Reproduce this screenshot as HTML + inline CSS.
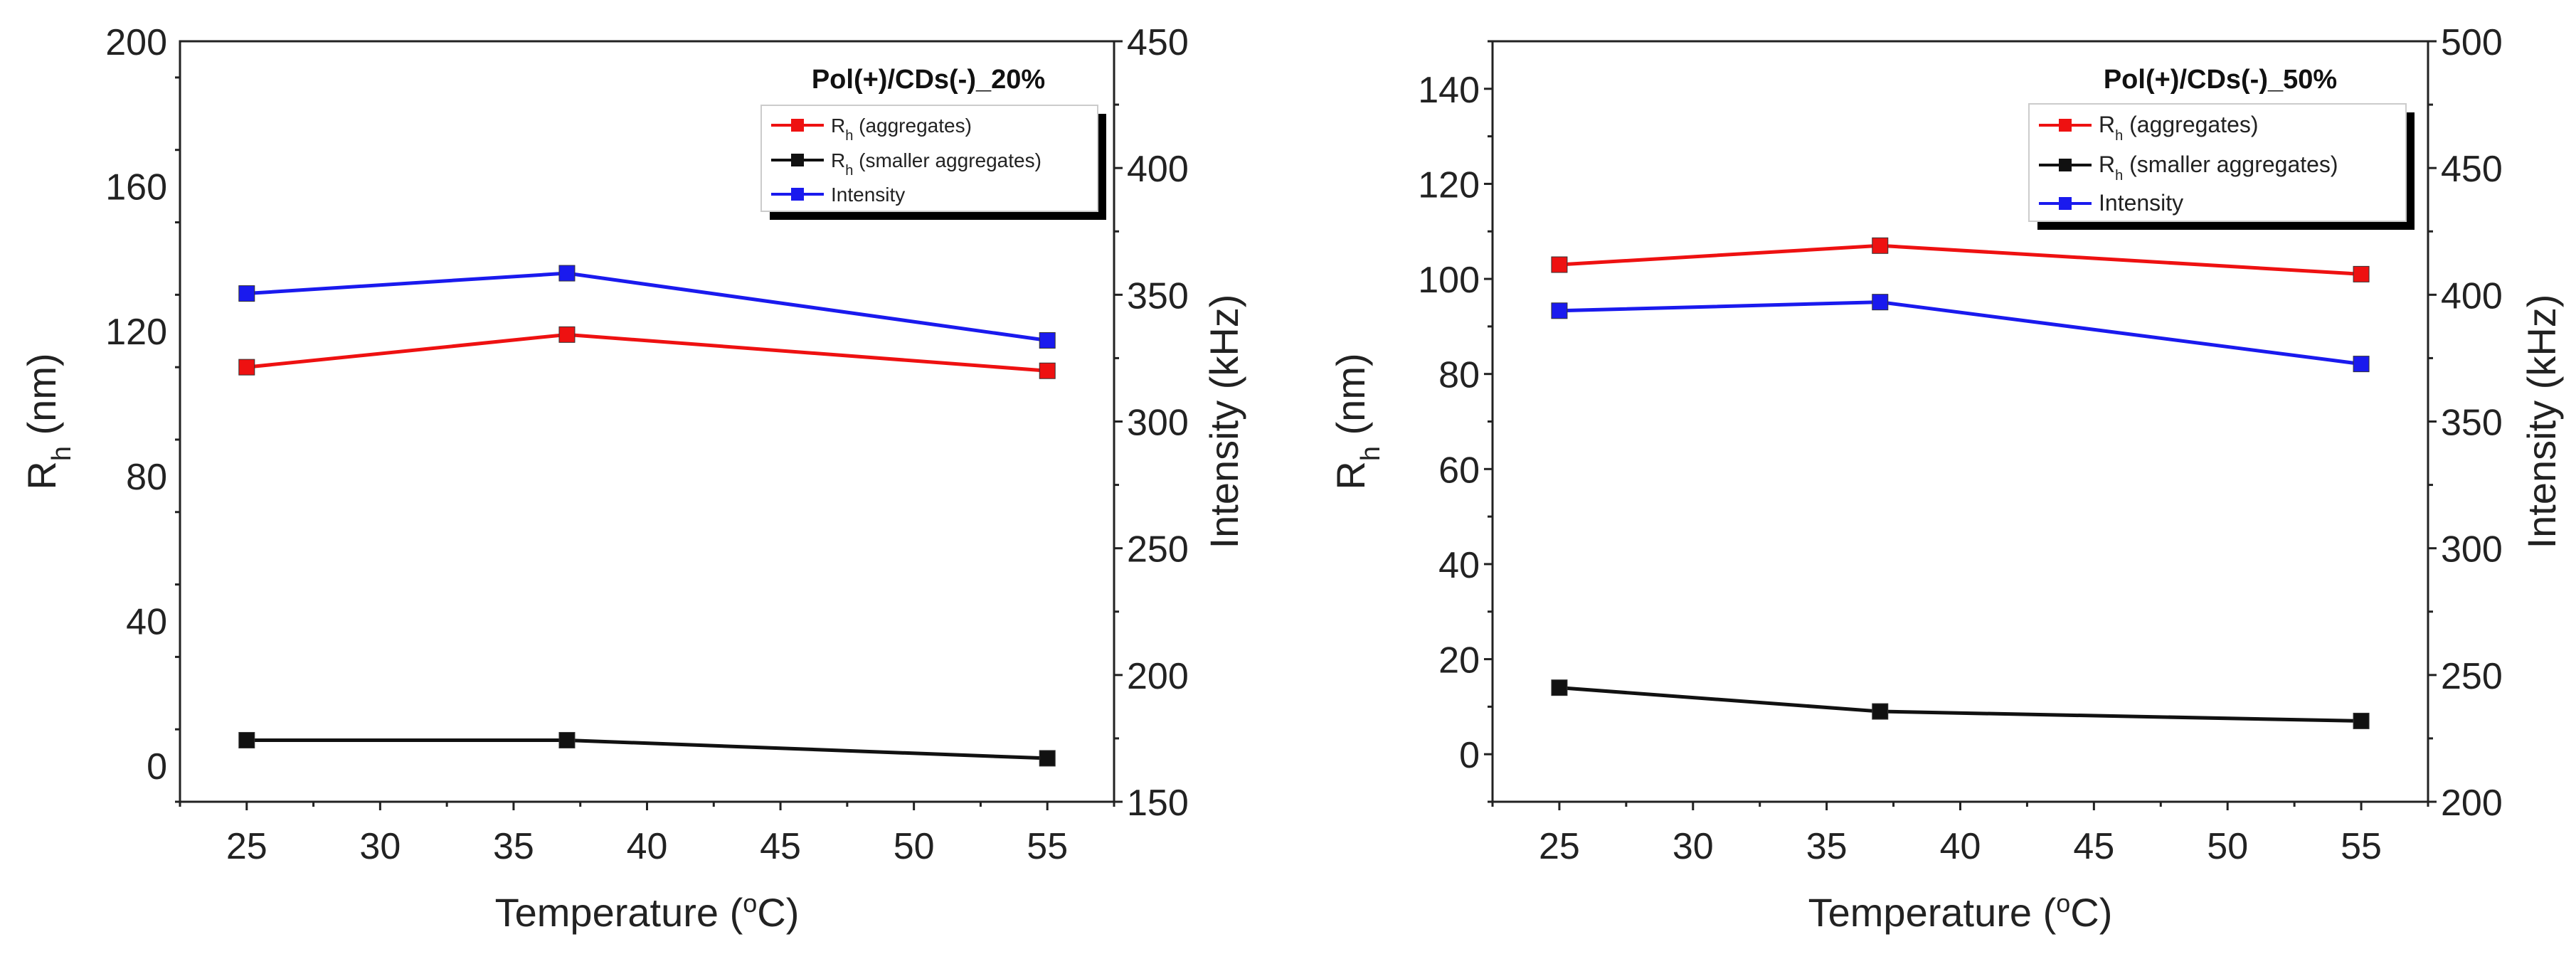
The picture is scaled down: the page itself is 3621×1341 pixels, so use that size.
<!DOCTYPE html>
<html><head><meta charset="utf-8">
<style>
html,body{margin:0;padding:0;background:#fff;}
svg{display:block;font-family:"Liberation Sans",Arial,sans-serif;}
</style></head>
<body>
<svg id="fig" width="3621" height="1341" viewBox="0 0 3621 1341" xmlns="http://www.w3.org/2000/svg"></svg>
<script>
const temps = [25, 37, 55];
const xTicks = [25, 30, 35, 40, 45, 50, 55];
const p1Aggregates = [110, 119, 109];
const p1Smaller = [7, 7, 2];
const p1Intensity = [350.5, 358.5, 332];
const p1LeftTicks = [0, 40, 80, 120, 160, 200];
const p1RightTicks = [150, 200, 250, 300, 350, 400, 450];
const p1Title = "Pol(+)/CDs(-)_20%";
const p2Aggregates = [103, 107, 101];
const p2Smaller = [14, 9, 7];
const p2Intensity = [393.7, 397.1, 372.7];
const p2LeftTicks = [0, 20, 40, 60, 80, 100, 120, 140];
const p2RightTicks = [200, 250, 300, 350, 400, 450, 500];
const p2Title = "Pol(+)/CDs(-)_50%";

const NS = "http://www.w3.org/2000/svg";
const svg = document.getElementById("fig");
function mk(tag, attrs, parent){const e=document.createElementNS(NS,tag);for(const k in attrs)e.setAttribute(k,attrs[k]);(parent||svg).appendChild(e);return e;}

function panel(cfg){
  const g = mk("g",{});
  
  
  const {L,R,T,B} = cfg;
  const xs = v => L + (v-22.5)/(57.5-22.5)*(R-L);
  const yl = v => B - (v-cfg.lmin)/(cfg.lmax-cfg.lmin)*(B-T);
  const yr = v => B - (v-cfg.rmin)/(cfg.rmax-cfg.rmin)*(B-T);
  const frame = mk("rect",{x:L,y:T,width:R-L,height:B-T,fill:"none",stroke:"#222","stroke-width":3},g);
  
  
  for(let v=22.5; v<=57.5+0.01; v+=2.5){
    const major = xTicks.includes(v);
    mk("line",{x1:xs(v),x2:xs(v),y1:B,y2:B+(major?12:7),stroke:"#222","stroke-width":3},g);
  }
  xTicks.forEach(v=>{
    const t=mk("text",{x:xs(v),y:1207,"font-size":52,"text-anchor":"middle",fill:"#222"},g);
    t.textContent=v;
    
    
  });
  const ls = cfg.lticks[1]-cfg.lticks[0];
  for(let v=cfg.lmin; v<=cfg.lmax+0.01; v+=ls/2){
    const major = cfg.lticks.includes(v);
    mk("line",{x1:L,x2:L-(major?12:7),y1:yl(v),y2:yl(v),stroke:"#222","stroke-width":3},g);
  }
  cfg.lticks.forEach(v=>{
    const t=mk("text",{x:L-18,y:yl(v)+19,"font-size":52,"text-anchor":"end",fill:"#222"},g);
    t.textContent=v;
    
    
  });
  const rs = cfg.rticks[1]-cfg.rticks[0];
  for(let v=cfg.rmin; v<=cfg.rmax+0.01; v+=rs/2){
    const major = cfg.rticks.includes(v);
    mk("line",{x1:R,x2:R+(major?12:7),y1:yr(v),y2:yr(v),stroke:"#222","stroke-width":3},g);
  }
  cfg.rticks.forEach(v=>{
    const t=mk("text",{x:R+18,y:yr(v)+19,"font-size":52,"text-anchor":"start",fill:"#222"},g);
    t.textContent=v;
    
    
  });
  const xt=mk("text",{x:(L+R)/2,y:1302,"font-size":56,"text-anchor":"middle",fill:"#222"},g);
  xt.innerHTML='Temperature (<tspan baseline-shift="super" font-size="36">o</tspan>C)';
  
  
  const ylt=mk("text",{transform:`translate(${cfg.ytx},${(T+B)/2}) rotate(-90)`,"font-size":56,"text-anchor":"middle",fill:"#222"},g);
  ylt.innerHTML='R<tspan baseline-shift="sub" font-size="38">h</tspan> (nm)';
  
  
  const yrt=mk("text",{transform:`translate(${cfg.rtx},${(T+B)/2}) rotate(-90)`,"font-size":56,"text-anchor":"middle",fill:"#222"},g);
  yrt.textContent='Intensity (kHz)';
  
  
  function series(vals, scale, color, name){
    const pts = temps.map((t,i)=>xs(t)+","+scale(vals[i])).join(" ");
    const pl=mk("polyline",{points:pts,fill:"none",stroke:color,"stroke-width":5},g);
    
    
    temps.forEach((t,i)=>{
      const r=mk("rect",{x:xs(t)-11,y:scale(vals[i])-11,width:22,height:22,fill:color,stroke:"#333","stroke-width":1},g);
      
      
    });
  }
  series(cfg.agg, yl, "#ee1111", "aggregates");
  series(cfg.small, yl, "#111111", "smaller-aggregates");
  series(cfg.inten, yr, "#1a1aee", "intensity");
  const lg = mk("g",{},g);
  
  
  const tt=mk("text",{x:cfg.ltx,y:124,"font-size":38,"font-weight":"bold","text-anchor":"middle",fill:"#111"},lg);
  tt.textContent=cfg.title;
  
  
  const b=cfg.box;
  mk("rect",{x:b[0]+12,y:b[1]+12,width:b[2]-b[0],height:b[3]-b[1],fill:"#000"},lg);
  mk("rect",{x:b[0],y:b[1],width:b[2]-b[0],height:b[3]-b[1],fill:"#fff",stroke:"#ccc","stroke-width":2},lg);
  const labels=['R<tspan baseline-shift="sub" font-size="20">h</tspan> (aggregates)','R<tspan baseline-shift="sub" font-size="20">h</tspan> (smaller aggregates)','Intensity'];
  const cols=["#ee1111","#111111","#1a1aee"];
  cfg.ly.forEach((y,i)=>{
    const e=mk("g",{},lg);
    
    
    mk("line",{x1:b[0]+14,x2:b[0]+88,y1:y,y2:y,stroke:cols[i],"stroke-width":4},e);
    mk("rect",{x:b[0]+42,y:y-9,width:18,height:18,fill:cols[i]},e);
    const t=mk("text",{x:b[0]+98,y:y+10,"font-size":cfg.lfs,fill:"#222"},e);
    t.innerHTML=labels[i];
  });
}

panel({name:"chart-20-percent",L:253,R:1566,T:58,B:1127,lmin:-10,lmax:200,rmin:150,rmax:450,
  lticks:p1LeftTicks,rticks:p1RightTicks,agg:p1Aggregates,small:p1Smaller,inten:p1Intensity,
  ytx:78,rtx:1740,title:p1Title,ltx:1305,box:[1070,148,1543,297],ly:[176,225,273],lfs:28});
panel({name:"chart-50-percent",L:2098,R:3413,T:58,B:1127,lmin:-10,lmax:150,rmin:200,rmax:500,
  lticks:p2LeftTicks,rticks:p2RightTicks,agg:p2Aggregates,small:p2Smaller,inten:p2Intensity,
  ytx:1918,rtx:3592,title:p2Title,ltx:3121,box:[2852,146,3382,311],ly:[176,232,286],lfs:32});
</script>
</body></html>
